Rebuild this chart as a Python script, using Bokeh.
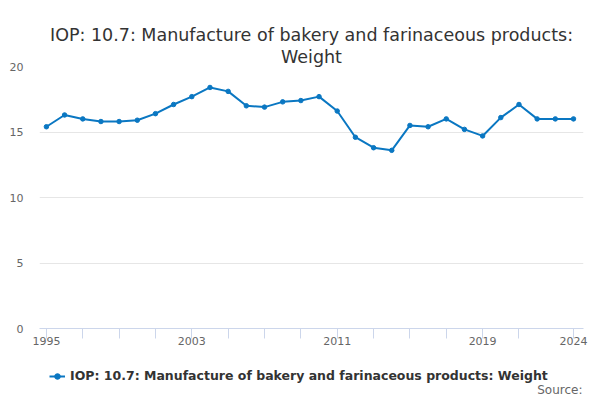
from bokeh.plotting import figure
from bokeh.models import FixedTicker, Legend, LegendItem, Title, Range1d, Label
from bokeh.layouts import column
from bokeh.embed import file_html
from bokeh.resources import INLINE

years = list(range(1995, 2025))
values = [15.4, 16.3, 16.0, 15.8, 15.8, 15.9, 16.4, 17.1, 17.7, 18.4,
          18.1, 17.0, 16.9, 17.3, 17.4, 17.7, 16.6, 14.6, 13.8, 13.6,
          15.5, 15.4, 16.0, 15.2, 14.7, 16.1, 17.1, 16.0, 16.0, 16.0]
x_ticks = [1995, 1997, 1999, 2001, 2003, 2005, 2007, 2009, 2011, 2013,
           2015, 2017, 2019, 2021, 2024]
x_labels = ["1995", "2003", "2011", "2019", "2024"]
y_ticks = [0, 5, 10, 15, 20]
title_line1 = "IOP: 10.7: Manufacture of bakery and farinaceous products:"
title_line2 = "Weight"
series_name = "IOP: 10.7: Manufacture of bakery and farinaceous products: Weight"
source_text = "Source:"

FONT = "DejaVu Sans"
COLOR = "#0a77c2"
W = 598
H1 = 347
H2 = 51

p = figure(width=W, height=H1, output_backend="svg", toolbar_location=None,
           x_range=Range1d(1994.62, 2024.55), y_range=Range1d(0, 20),
           min_border_left=39, min_border_right=15, min_border_top=66,
           min_border_bottom=0)

p.title.text = title_line1
p.title.align = "center"
p.title.text_font = FONT
p.title.text_font_size = "17.5px"
p.title.text_font_style = "normal"
p.title.text_color = "#333333"
p.title.standoff = 0

t2 = Title(text=title_line2, align="center", text_font=FONT,
           text_font_size="17.5px", text_font_style="normal",
           text_color="#333333", standoff=0)
p.add_layout(t2, "above")
spacer = Title(text="", text_font_size="1px", standoff=16)
p.add_layout(spacer, "above")

p.outline_line_color = None
p.background_fill_color = "white"
p.border_fill_color = "white"

# x axis
p.xaxis.ticker = FixedTicker(ticks=x_ticks)
p.xaxis.major_label_overrides = {t: (str(t) if str(t) in x_labels else "") for t in x_ticks}
p.xaxis.axis_line_color = "#ccd6eb"
p.xaxis.major_tick_line_color = "#ccd6eb"
p.xaxis.major_tick_out = 10
p.xaxis.major_tick_in = 0
p.xaxis.minor_tick_line_color = None
p.xaxis.major_label_text_font = FONT
p.xaxis.major_label_text_font_size = "11px"
p.xaxis.major_label_text_color = "#666666"
p.xaxis.major_label_standoff = -2
p.xgrid.grid_line_color = None

# y axis
p.yaxis.ticker = FixedTicker(ticks=y_ticks)
p.yaxis.axis_line_color = None
p.yaxis.major_tick_line_color = None
p.yaxis.minor_tick_line_color = None
p.yaxis.major_tick_out = 0
p.yaxis.major_label_text_font = FONT
p.yaxis.major_label_text_font_size = "11px"
p.yaxis.major_label_text_color = "#666666"
p.yaxis.major_label_standoff = 16
p.ygrid.grid_line_color = "#e6e6e6"
p.ygrid.ticker = FixedTicker(ticks=y_ticks)

p.line(years, values, line_color=COLOR, line_width=2)
p.scatter(years, values, size=4.5, fill_color=COLOR, line_color=COLOR)

# legend / source strip below the chart (series drawn outside its ranges,
# only its legend entry shows); its frame is aligned with the chart's frame
FW = 544
p2 = figure(width=W, height=H2, output_backend="svg", toolbar_location=None,
            x_range=Range1d(0, FW), y_range=Range1d(0, H2),
            x_axis_location=None, y_axis_location=None, min_border=0)
p2.grid.visible = False
p2.outline_line_color = None
p2.border_fill_color = "white"
lg_line = p2.line(years, values, line_color=COLOR, line_width=2)
lg_pts = p2.scatter(years, values, size=4.5, fill_color=COLOR, line_color=COLOR)
legend = Legend(items=[LegendItem(label=series_name, renderers=[lg_line, lg_pts])],
                orientation="horizontal", location=(10, 15),
                label_text_font=FONT, label_text_font_size="12.5px",
                label_text_font_style="bold", label_text_color="#333333",
                border_line_color=None, background_fill_alpha=0,
                glyph_width=16, glyph_height=14, label_standoff=5,
                padding=2, margin=0, spacing=0)
p2.add_layout(legend, "center")
src = Label(x=FW - 1, y=2, text=source_text, text_align="right",
            text_baseline="bottom", text_font=FONT, text_font_size="12px",
            text_color="#666666")
p2.add_layout(src)

layout = column(p, p2, spacing=0)
open("out.html", "w").write(file_html(layout, INLINE))
